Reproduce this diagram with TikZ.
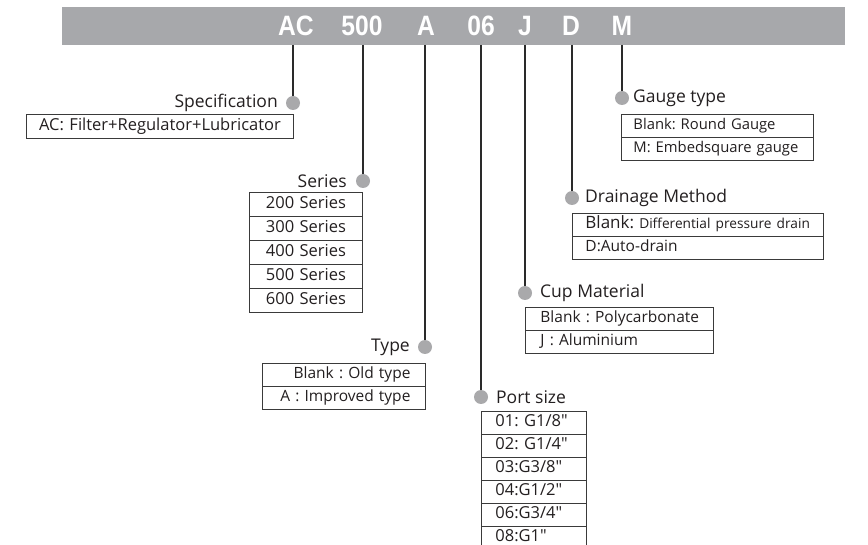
\documentclass[tikz,border=0pt]{standalone}
\usepackage{fontspec}
\setmainfont{Open Sans}
\newfontfamily\barfont[FakeStretch=0.88]{Liberation Sans}
\definecolor{bargray}{HTML}{A7A8AB}
\definecolor{dotgray}{HTML}{A9A9AB}
\definecolor{linedark}{HTML}{2A2A2A}
\definecolor{boxline}{HTML}{3A3A3A}
\definecolor{txt}{HTML}{231F20}
\newcommand{\fs}[1]{\fontsize{#1}{#1}\selectfont}
\frenchspacing
\begin{document}
\begin{tikzpicture}[x=1pt,y=-1pt,
  barletter/.style={font=\barfont\bfseries\fs{28}, text=white, anchor=base, inner sep=0},
  tick/.style={draw=linedark, line width=1.2pt},
  gdot/.style={circle, fill=dotgray, minimum size=14, inner sep=0},
  lbl/.style={font=\fs{17.5}, text=txt, inner sep=0},
  cell/.style={draw=boxline, line width=0.9pt, anchor=north west, inner ysep=0,
     minimum height=#1, text height=11.5, text depth=3.5, text=txt,
     font=\fs{15.5}},
  cell/.default=24
]
\useasboundingbox (0,0) rectangle (868,545);
\fill[white] (0,0) rectangle (868,545);
% top bar
\node[fill=bargray, minimum width=783, minimum height=38, inner sep=0, anchor=north west] (bar) at (62,7) {};
\node[barletter] (bAC) at (296,36) {AC};
\node[barletter] (b500) at (362,36) {500};
\node[barletter] (bA) at (426,36) {A};
\node[barletter] (b06) at (481,36) {06};
\node[barletter] (bJ) at (525,36) {J};
\node[barletter] (bD) at (571,36) {D};
\node[barletter] (bM) at (622,36) {M};
\coordinate (tAC) at (293,45);
\coordinate (t500) at (363,45);
\coordinate (tA) at (425,45);
\coordinate (t06) at (481,45);
\coordinate (tJ) at (525,45);
\coordinate (tD) at (572,45);
\coordinate (tM) at (622,45);
% connectors
\coordinate (cAC) at (293,103);
\coordinate (c500) at (363,181);
\coordinate (cA) at (425,347);
\coordinate (c06) at (481,397);
\coordinate (cJ) at (525,293);
\coordinate (cD) at (572,198);
\coordinate (cM) at (622,98);
\draw[tick] (tAC) -- (cAC);
\draw[tick] (t500) -- (c500);
\draw[tick] (tA) -- (cA);
\draw[tick] (t06) -- (c06);
\draw[tick] (tJ) -- (cJ);
\draw[tick] (tD) -- (cD);
\draw[tick] (tM) -- (cM);
% dots
\node[gdot] (dAC) at (cAC) {};
\node[gdot] (d500) at (c500) {};
\node[gdot] (dA) at (cA) {};
\node[gdot] (d06) at (c06) {};
\node[gdot] (dJ) at (cJ) {};
\node[gdot] (dD) at (cD) {};
\node[gdot] (dM) at (cM) {};
% Specification
\node[lbl, anchor=east] (lSpec) at (278,103) {Specification};
\node[cell, text width=267, inner xsep=0, align=center, font=\fs{16.5}] (sp1) at (26,114) {AC: Filter+Regulator+Lubricator};
% Series
\node[lbl, anchor=east] (lSer) at (347,181) {Series};
\node[cell, text width=113, inner xsep=0, align=center, font=\fs{16.5}] (se1) at (249,192) {200 Series};
\node[cell, text width=113, inner xsep=0, align=center, font=\fs{16.5}] (se2) at (249,216) {300 Series};
\node[cell, text width=113, inner xsep=0, align=center, font=\fs{16.5}] (se3) at (249,240) {400 Series};
\node[cell, text width=113, inner xsep=0, align=center, font=\fs{16.5}] (se4) at (249,264) {500 Series};
\node[cell, text width=113, inner xsep=0, align=center, font=\fs{16.5}] (se5) at (249,288) {600 Series};
% Type
\node[lbl, anchor=east] (lType) at (410,347) {Type};
\node[cell=23, text width=133, inner xsep=15, align=right] (ty1) at (262,363) {\mbox{Blank : Old type}};
\node[cell=23, text width=133, inner xsep=15, align=right] (ty2) at (262,386) {\mbox{A : Improved type}};
% Port size
\node[lbl, anchor=west] (lPort) at (496,397) {Port size};
\node[cell=23, text width=77, inner xsep=14, align=left, font=\fs{16.5}] (p1) at (481,411) {\mbox{01: G1/8\textquotedbl}};
\node[cell=23, text width=77, inner xsep=14, align=left, font=\fs{16.5}] (p2) at (481,434) {\mbox{02: G1/4\textquotedbl}};
\node[cell=23, text width=77, inner xsep=14, align=left, font=\fs{16.5}] (p3) at (481,457) {\mbox{03:G3/8\textquotedbl}};
\node[cell=23, text width=77, inner xsep=14, align=left, font=\fs{16.5}] (p4) at (481,480) {\mbox{04:G1/2\textquotedbl}};
\node[cell=23, text width=77, inner xsep=14, align=left, font=\fs{16.5}] (p5) at (481,503) {\mbox{06:G3/4\textquotedbl}};
\node[cell=23, text width=77, inner xsep=14, align=left, font=\fs{16.5}] (p6) at (481,526) {\mbox{08:G1\textquotedbl}};
% Cup material
\node[lbl, anchor=west] (lCup) at (540,293) {Cup Material};
\node[cell=23, text width=158, inner xsep=15, align=left] (c1) at (525,307) {\mbox{Blank : Polycarbonate}};
\node[cell=23, text width=158, inner xsep=15, align=left] (c2) at (525,330) {\mbox{J : Aluminium}};
% Drainage
\node[lbl, anchor=west] (lDr) at (585,198) {Drainage Method};
\node[cell=23, text width=225, inner xsep=13, align=left] (dr1) at (572,213) {\mbox{{\fs{17}Blank:} {\fs{13.7}Differential pressure drain}}};
\node[cell=23, text width=225, inner xsep=13, align=left] (dr2) at (572,236) {\mbox{D:Auto-drain}};
% Gauge
\node[lbl, anchor=west] (lG) at (633,98) {Gauge type};
\node[cell=23, text width=168, inner xsep=12, align=left, font=\fs{14.8}] (g1) at (621,114) {\mbox{Blank: Round Gauge}};
\node[cell=23, text width=168, inner xsep=12, align=left, font=\fs{14.8}] (g2) at (621,137) {\mbox{M: Embedsquare gauge}};
\end{tikzpicture}
\end{document}
